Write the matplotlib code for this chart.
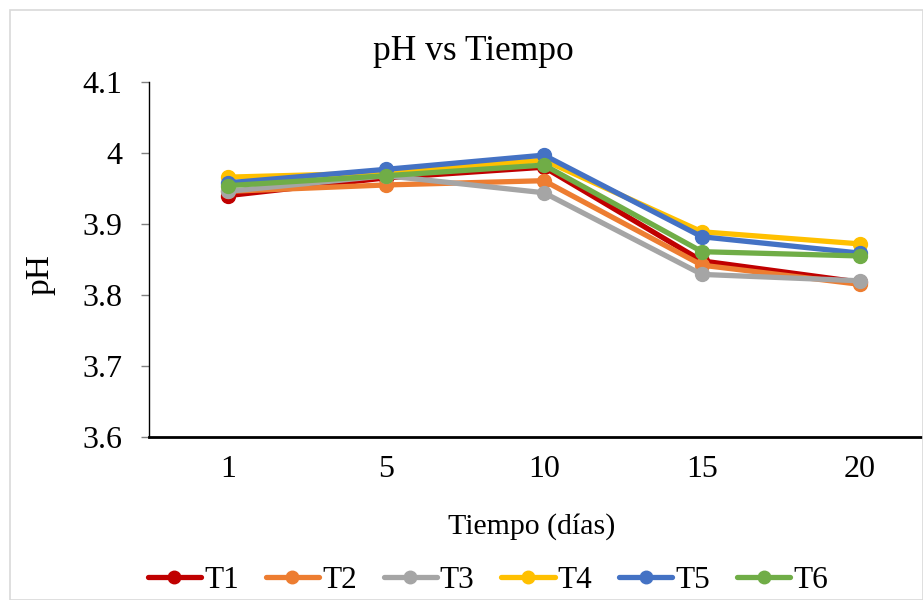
import matplotlib
matplotlib.use("Agg")
import matplotlib.pyplot as plt
from matplotlib.patches import Rectangle

days = ["1", "5", "10", "15", "20"]
series_names = ["T1", "T2", "T3", "T4", "T5", "T6"]
T1 = [3.940, 3.965, 3.980, 3.848, 3.818]
T2 = [3.946, 3.955, 3.961, 3.842, 3.815]
T3 = [3.946, 3.968, 3.944, 3.829, 3.820]
T4 = [3.966, 3.972, 3.990, 3.889, 3.872]
T5 = [3.958, 3.977, 3.997, 3.882, 3.859]
T6 = [3.954, 3.968, 3.983, 3.861, 3.855]
colors = ["#C00000", "#ED7D31", "#A5A5A5", "#FFC000", "#4472C4", "#70AD47"]

plt.rcParams['font.family'] = ['Liberation Serif', 'DejaVu Serif']

W, H = 923, 600
fig = plt.figure(figsize=(W / 100, H / 100), dpi=100)
fig.patches.append(Rectangle((10 / W, 0), (W - 10) / W, (H - 10) / H, transform=fig.transFigure,
                             fill=False, edgecolor="#D9D9D9", linewidth=1.2))

ax = fig.add_axes([149 / W, 1 - 437 / H, 790 / W, 355 / H])
x = list(range(len(days)))
for name, vals, c in zip(series_names, [T1, T2, T3, T4, T5, T6], colors):
    ax.plot(x, vals, color=c, linewidth=3.8, marker='o', markersize=10, label=name,
            solid_capstyle='round', solid_joinstyle='round')

ax.set_xlim(-0.5, 4.5)
ax.set_ylim(3.6, 4.1)
ax.set_yticks([3.6, 3.7, 3.8, 3.9, 4.0, 4.1])
ax.set_yticklabels(["3.6", "3.7", "3.8", "3.9", "4", "4.1"])
ax.set_xticks(x)
ax.set_xticklabels(days)
ax.tick_params(axis='y', length=6, width=1, color='#808080', labelsize=23, pad=13)
ax.tick_params(axis='x', length=0, labelsize=23, pad=13)
for s in ['top', 'right']:
    ax.spines[s].set_visible(False)
ax.spines['left'].set_linewidth(1.0)
ax.spines['bottom'].set_linewidth(2.0)
ax.spines['left'].set_color('black')
ax.spines['bottom'].set_color('black')

fig.text(473 / W, 1 - 52 / H, "pH vs Tiempo", ha='center', va='center', fontsize=25.5)
fig.text(40 / W, 1 - 275 / H, "pH", ha='center', va='center', rotation=90, fontsize=24)
fig.text(532 / W, 1 - 527 / H, "Tiempo (días)", ha='center', va='center', fontsize=21.5)

handles, labels = ax.get_legend_handles_labels()
fig.legend(handles, labels, loc='center', bbox_to_anchor=(488 / W, 1 - 580 / H), ncol=6,
           frameon=False, fontsize=22.5, handlelength=1.7, handletextpad=0.1,
           columnspacing=0.86, markerscale=0.9)

fig.savefig("out.png", dpi=100)
